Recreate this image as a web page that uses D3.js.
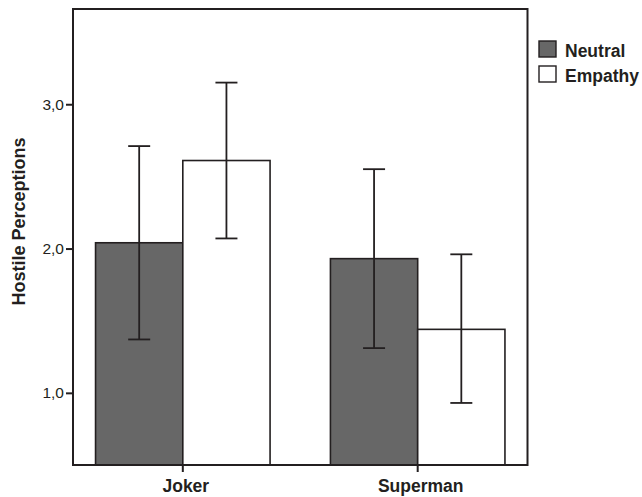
<!DOCTYPE html>
<html>
<head>
<meta charset="utf-8">
<script src="https://cdn.jsdelivr.net/npm/d3@7/dist/d3.min.js"></script>
<style>
  html, body { margin: 0; padding: 0; background: #fff; }
  svg { display: block; }
  text { font-family: "Liberation Sans", Arial, Helvetica, sans-serif; }
</style>
</head>
<body>
<svg id="chart" width="642" height="497"></svg>
<script>
const categories = ["Joker", "Superman"];
const seriesNames = ["Neutral", "Empathy"];
const neutralMeans = [2.04, 1.93];
const empathyMeans = [2.61, 1.44];
const neutralLow = [1.37, 1.31];
const neutralHigh = [2.71, 2.55];
const empathyLow = [2.07, 0.93];
const empathyHigh = [3.15, 1.96];
const yTicks = [1.0, 2.0, 3.0];
const yTickLabels = ["1,0", "2,0", "3,0"];
const seriesFill = ["#676767", "#ffffff"];

const rows = [];
categories.forEach((c, i) => {
  rows.push({cat: c, series: seriesNames[0], mean: neutralMeans[i], lo: neutralLow[i], hi: neutralHigh[i]});
  rows.push({cat: c, series: seriesNames[1], mean: empathyMeans[i], lo: empathyLow[i], hi: empathyHigh[i]});
});

const svg = d3.select("#chart");
const pLeft = 73, pRight = 527.5, pTop = 9, pBottom = 465;

const x = d3.scaleBand().domain(categories).range([pLeft, pRight])
  .paddingInner(0.257).paddingOuter(0.096);
const xs = d3.scaleBand().domain(seriesNames).range([0, x.bandwidth()]).padding(0);
const y = d3.scaleLinear().domain([0.5, 3.66]).range([pBottom, pTop]);
const color = d3.scaleOrdinal().domain(seriesNames).range(seriesFill);

// bars
svg.append("g").selectAll("rect").data(rows).join("rect")
  .attr("x", d => x(d.cat) + xs(d.series))
  .attr("y", d => y(d.mean))
  .attr("width", xs.bandwidth())
  .attr("height", d => pBottom - y(d.mean))
  .attr("fill", d => color(d.series))
  .attr("stroke", "#231f20")
  .attr("stroke-width", 1.6);

// error bars
const eb = svg.append("g").attr("stroke", "#231f20").attr("stroke-width", 1.8);
const capW = 11;
rows.forEach(d => {
  const cx = x(d.cat) + xs(d.series) + xs.bandwidth() / 2;
  eb.append("line").attr("x1", cx).attr("x2", cx).attr("y1", y(d.lo)).attr("y2", y(d.hi));
  eb.append("line").attr("x1", cx - capW).attr("x2", cx + capW).attr("y1", y(d.lo)).attr("y2", y(d.lo));
  eb.append("line").attr("x1", cx - capW).attr("x2", cx + capW).attr("y1", y(d.hi)).attr("y2", y(d.hi));
});

// frame
svg.append("rect").attr("x", pLeft).attr("y", pTop)
  .attr("width", pRight - pLeft).attr("height", pBottom - pTop)
  .attr("fill", "none").attr("stroke", "#231f20").attr("stroke-width", 2);

// y axis
const yAxis = d3.axisLeft(y).tickValues(yTicks)
  .tickFormat((d, i) => yTickLabels[i]).tickSize(7).tickPadding(2);
const yg = svg.append("g").attr("transform", `translate(${pLeft},0)`).call(yAxis);
yg.select(".domain").remove();
yg.selectAll(".tick line").attr("stroke", "#231f20").attr("stroke-width", 2);
yg.selectAll(".tick text").attr("fill", "#231f20")
  .style("font-size", "15.5px").style("font-family", "'Liberation Sans', Arial, sans-serif");

// x axis
const xAxis = d3.axisBottom(x).tickSize(7).tickPadding(8);
const xg = svg.append("g").attr("transform", `translate(0,${pBottom})`).call(xAxis);
xg.select(".domain").remove();
xg.selectAll(".tick line").attr("stroke", "#231f20").attr("stroke-width", 2);
xg.selectAll(".tick text").attr("fill", "#231f20").attr("dx", 3)
  .style("font-size", "17.5px").style("font-weight", "bold")
  .style("font-family", "'Liberation Sans', Arial, sans-serif");

// y title
svg.append("text")
  .attr("transform", "translate(24.5,221.5) rotate(-90)")
  .attr("text-anchor", "middle")
  .attr("fill", "#231f20")
  .style("font-size", "18px").style("font-weight", "bold")
  .text("Hostile Perceptions");

// legend
const lg = svg.append("g");
seriesNames.forEach((s, i) => {
  const yy = 41 + i * 25;
  lg.append("rect").attr("x", 539).attr("y", yy).attr("width", 17).attr("height", 16)
    .attr("fill", color(s)).attr("stroke", "#231f20").attr("stroke-width", 1.4);
  lg.append("text").attr("x", 565).attr("y", yy + 15.5)
    .attr("fill", "#231f20")
    .style("font-size", "17.5px").style("font-weight", "bold")
    .text(s);
});
</script>
</body>
</html>
